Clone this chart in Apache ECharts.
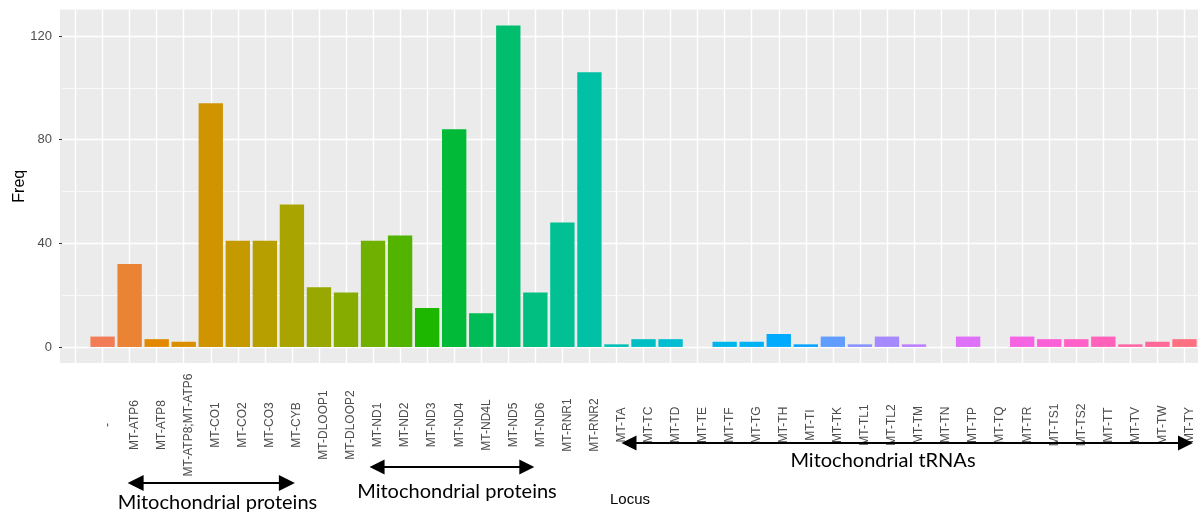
<!DOCTYPE html>
<html><head><meta charset="utf-8">
<script src="https://cdn.jsdelivr.net/npm/echarts@6/dist/echarts.min.js"></script>
<style>html,body{margin:0;padding:0;background:#fff}#c{width:1198px;height:516px}</style>
</head><body><div id="c"></div>
<script>
// ---- data ----
const categories = ['', '-', 'MT-ATP6', 'MT-ATP8', 'MT-ATP8;MT-ATP6', 'MT-CO1', 'MT-CO2', 'MT-CO3', 'MT-CYB',
  'MT-DLOOP1', 'MT-DLOOP2', 'MT-ND1', 'MT-ND2', 'MT-ND3', 'MT-ND4', 'MT-ND4L', 'MT-ND5', 'MT-ND6',
  'MT-RNR1', 'MT-RNR2', 'MT-TA', 'MT-TC', 'MT-TD', 'MT-TE', 'MT-TF', 'MT-TG', 'MT-TH', 'MT-TI', 'MT-TK',
  'MT-TL1', 'MT-TL2', 'MT-TM', 'MT-TN', 'MT-TP', 'MT-TQ', 'MT-TR', 'MT-TS1', 'MT-TS2', 'MT-TT', 'MT-TV',
  'MT-TW', 'MT-TY'];
const freq = [0, 4, 32, 3, 2, 94, 41, 41, 55, 23, 21,
  41, 43, 15, 84, 13, 124, 21, 48, 106,
  1, 3, 3, 0, 2, 2, 5, 1, 4, 1, 4, 1, 0, 4, 0, 4, 3, 3, 4, 1, 2, 3];
const yTicks = [0, 40, 80, 120];
const yMinor = [20, 60, 100];
const groupLabels = ['Mitochondrial proteins', 'Mitochondrial proteins', 'Mitochondrial tRNAs'];
const groupFrom = ['MT-ATP6', 'MT-ND1', 'MT-TA'];
const groupTo = ['MT-CYB', 'MT-ND6', 'MT-TY'];

// ---- layout / style (pixels) ----
const annLayout = [
  {dx1: -2, dx2: 3, y: 483, L: 16, h: 8, tx: 217.5, ty: 503},
  {dx1: -3.5, dx2: -1, y: 467, L: 15, h: 7.5, tx: 457, ty: 492},
  {dx1: 5, dx2: 8.5, y: 443, L: 15, h: 7.5, tx: 883, ty: 460.5}
];

// ggplot2 hue palette (hcl, c=100, l=65)
function hcl(h, c, l) {
  const hr = h * Math.PI / 180;
  const U = c * Math.cos(hr), V = c * Math.sin(hr);
  const Y = l > 8 ? Math.pow((l + 16) / 116, 3) : l / 903.3;
  const Xn = 0.95047, Yn = 1, Zn = 1.08883;
  const un = 4 * Xn / (Xn + 15 * Yn + 3 * Zn), vn = 9 * Yn / (Xn + 15 * Yn + 3 * Zn);
  const u = U / (13 * l) + un, v = V / (13 * l) + vn;
  const X = 9 * Y * u / (4 * v);
  const Z = -X / 3 - 5 * Y + 3 * Y / v;
  let r = 3.240479 * X - 1.537150 * Y - 0.498535 * Z;
  let g = -0.969256 * X + 1.875992 * Y + 0.041556 * Z;
  let b = 0.055648 * X - 0.204043 * Y + 1.057311 * Z;
  const gam = t => { t = t <= 0.0031308 ? 12.92 * t : 1.055 * Math.pow(t, 1 / 2.4) - 0.055; return Math.round(Math.max(0, Math.min(1, t)) * 255); };
  return 'rgb(' + gam(r) + ',' + gam(g) + ',' + gam(b) + ')';
}
const n = categories.length;
const colors = categories.map((_, i) => hcl(15 + 360 * i / n, 100, 65));

const chart = echarts.init(document.getElementById('c'), null, {renderer: 'canvas'});

const gridLines = [];
yTicks.forEach(v => gridLines.push({yAxis: v, lineStyle: {color: '#fff', width: 1.4, type: 'solid'}}));
yMinor.forEach(v => gridLines.push({yAxis: v, lineStyle: {color: '#fff', width: 0.7, type: 'solid'}}));
categories.forEach((c, i) => gridLines.push({xAxis: i, lineStyle: {color: '#fff', width: 1.4, type: 'solid'}}));

const panelRect = {type: 'rect', z: -10, silent: true, shape: {x: 60, y: 9.5, width: 1138, height: 353.5}, style: {fill: '#EBEBEB'}};

chart.setOption({
  animation: false,
  backgroundColor: '#fff',
  graphic: [panelRect],
  grid: {left: 62, top: 9.5, width: 1136, height: 353.5, show: false,
    borderWidth: 0, containLabel: false, outerBoundsMode: 'none'},
  xAxis: {
    type: 'category', data: categories,
    name: 'Locus', nameLocation: 'middle', nameGap: 129, nameMoveOverlap: false,
    nameTextStyle: {fontSize: 15, color: '#000', fontFamily: 'Liberation Sans'},
    axisLine: {show: false},
    axisTick: {show: true, alignWithLabel: true, interval: 0, length: 3, lineStyle: {color: '#333', width: 1}},
    axisLabel: {interval: 0, rotate: 90, align: 'center', verticalAlign: 'top', lineHeight: 10,
      margin: 62, fontSize: 12, color: '#4D4D4D', fontFamily: 'Liberation Sans', hideOverlap: false},
    splitLine: {show: false}
  },
  yAxis: {
    type: 'value', min: -6.2, max: 130.2,
    name: 'Freq', nameLocation: 'middle', nameRotate: 90, nameGap: 34, nameMoveOverlap: false,
    nameTextStyle: {fontSize: 16, color: '#000', fontFamily: 'Liberation Sans'},
    axisLine: {show: false},
    axisTick: {show: true, length: 3, customValues: yTicks, lineStyle: {color: '#333', width: 1}},
    axisLabel: {customValues: yTicks, margin: 10, fontSize: 13, color: '#4D4D4D', fontFamily: 'Liberation Sans'},
    splitLine: {show: false}
  },
  series: [
    {type: 'line', data: categories.map(() => null), z: 1, silent: true, symbol: 'none',
      markLine: {z: 1, silent: true, symbol: 'none', label: {show: false}, animation: false, data: gridLines}},
    {type: 'bar', z: 10, barWidth: '90%',
      data: freq.map((v, i) => ({value: v, itemStyle: {color: colors[i]}}))}
  ]
});

const graphics = [panelRect];
groupLabels.forEach((t, k) => {
  const a = annLayout[k];
  const x1 = chart.convertToPixel({xAxisIndex: 0}, groupFrom[k]) + a.dx1;
  const x2 = chart.convertToPixel({xAxisIndex: 0}, groupTo[k]) + a.dx2;
  graphics.push({type: 'line', z: 20, shape: {x1: x1 + a.L - 2, y1: a.y, x2: x2 - a.L + 2, y2: a.y}, style: {stroke: '#000', lineWidth: 2}});
  graphics.push({type: 'polygon', z: 20, shape: {points: [[x1, a.y], [x1 + a.L, a.y - a.h], [x1 + a.L, a.y + a.h]]}, style: {fill: '#000'}});
  graphics.push({type: 'polygon', z: 20, shape: {points: [[x2, a.y], [x2 - a.L, a.y - a.h], [x2 - a.L, a.y + a.h]]}, style: {fill: '#000'}});
  graphics.push({type: 'text', z: 20, x: a.tx, y: a.ty, style: {text: t, fill: '#000', fontSize: 20, fontFamily: 'Lato',
    align: 'center', verticalAlign: 'middle'}});
});
chart.setOption({graphic: graphics}, {replaceMerge: ['graphic']});
</script></body></html>
